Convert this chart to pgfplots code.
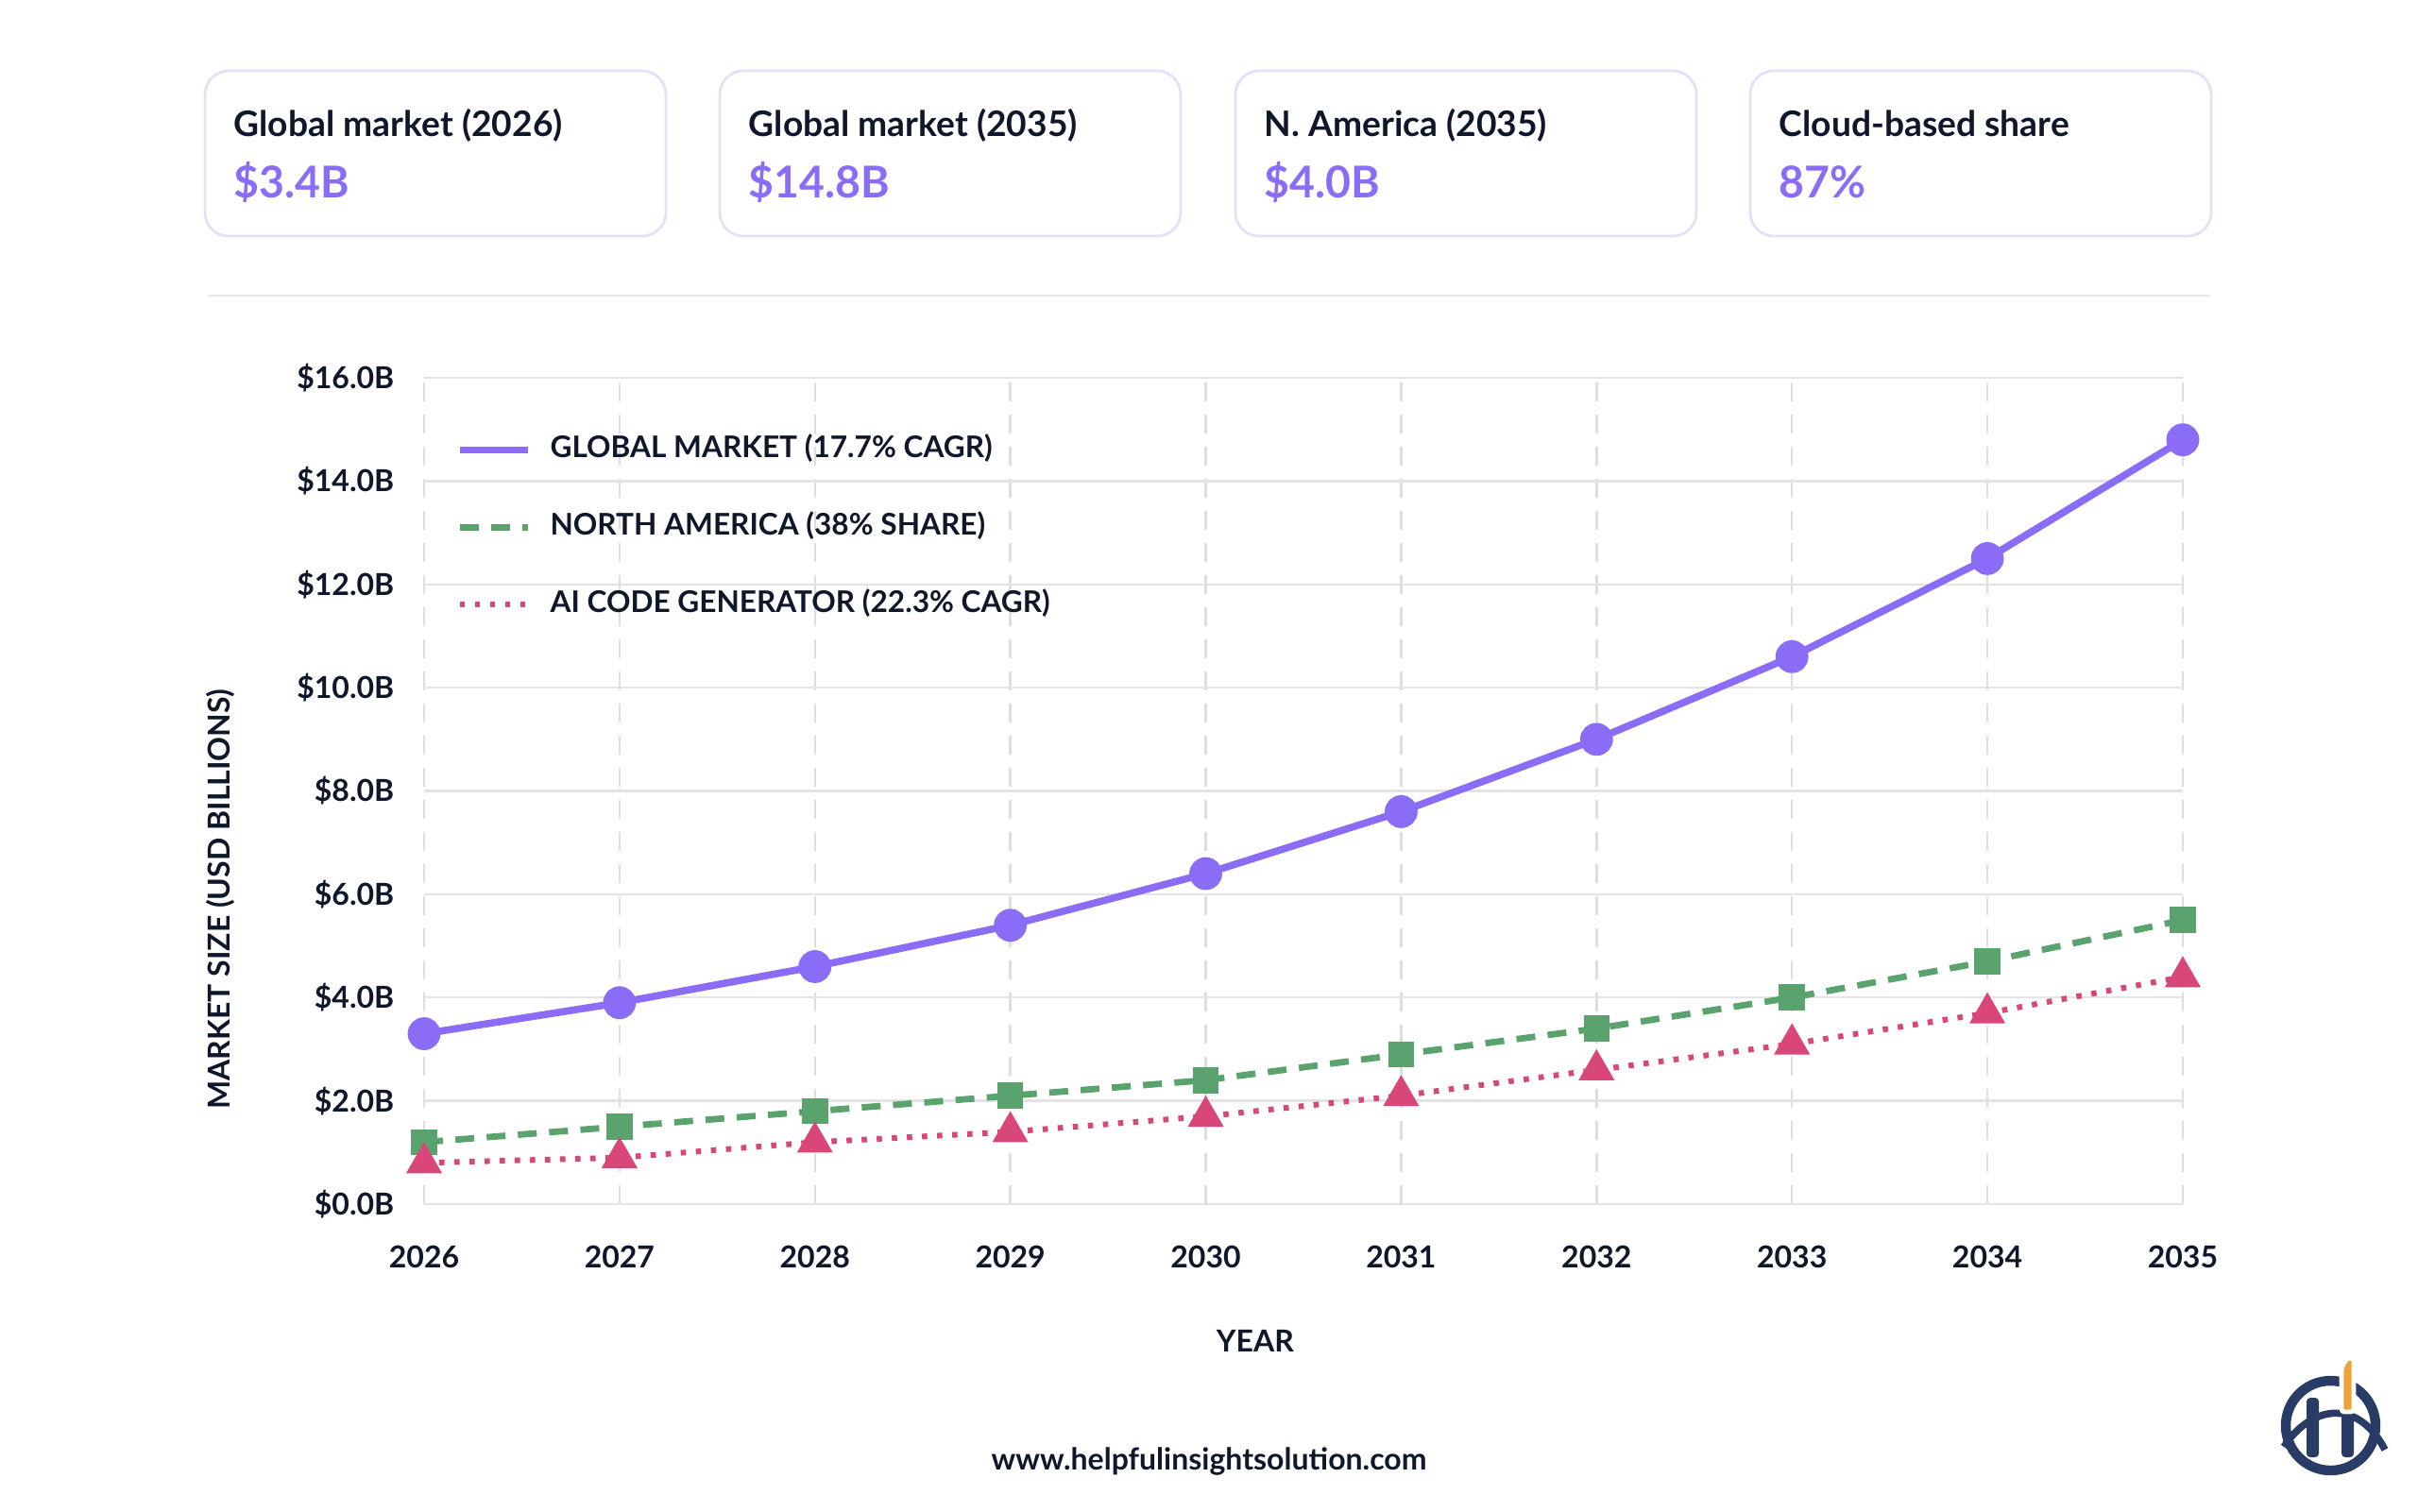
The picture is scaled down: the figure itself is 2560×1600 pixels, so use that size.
\documentclass[border=0pt]{standalone}
\usepackage{fontspec}
\setmainfont{Lato}
\usepackage{pgfplots}
\pgfplotsset{compat=1.18}
\definecolor{ink}{HTML}{0F172A}
\definecolor{cpurple}{HTML}{8B6CF6}
\definecolor{cgreen}{HTML}{5AA36E}
\definecolor{cpink}{HTML}{D9467A}
\definecolor{gridh}{HTML}{E3E3E6}
\definecolor{gridv}{HTML}{DEDEE1}
\definecolor{cardborder}{HTML}{E3E1F5}
\definecolor{sepline}{HTML}{E5E7EB}
\definecolor{navy}{HTML}{283C66}
\definecolor{logoorange}{HTML}{F0A33A}

\newcommand{\card}[3]{%
  \draw[cardborder, line width=0.7pt, fill=white, rounded corners=6.25pt] (#1,75) rectangle ++(488,175);
  \node[anchor=base west, inner sep=0pt, font=\bfseries\fontsize{9.3}{11}\selectfont, text=ink] at (#1+30,144) {#2};
  \node[anchor=base west, inner sep=0pt, font=\bfseries\fontsize{11.6}{13}\selectfont, text=cpurple] at (#1+30,209) {#3};
}

\begin{document}
\begin{tikzpicture}
\begin{scope}[x=0.25pt,y=-0.25pt]
  \path[use as bounding box, fill=white] (0,0) rectangle (2560,1600);
  \card{217}{Global market (2026)}{\$3.4B}
  \card{762}{Global market (2035)}{\$14.8B}
  \card{1308}{N. America (2035)}{\$4.0B}
  \card{1853}{Cloud-based share}{87\%}
  \draw[sepline, line width=0.5pt] (220,313) -- (2340,313);
  \node[anchor=base, inner sep=0pt, font=\bfseries\fontsize{8}{10}\selectfont, text=ink] at (1280,1556) {www.helpfulinsightsolution.com};
  % logo
  \draw[navy, line width=2.6pt] (2467.5,1509.5) circle[radius=11.875pt];
  \fill[navy, rounded corners=1pt] (2442,1480) rectangle (2455,1543);
  \fill[navy, rounded corners=1pt] (2479,1494) rectangle (2492,1543);
  \draw[navy, line width=1.9pt] (2418,1532) .. controls (2445,1490) and (2495,1478) .. (2525,1535);
  \filldraw[logoorange, draw=white, line width=1.2pt, rounded corners=0.8pt] (2479,1448) -- (2485,1438) -- (2492,1438) -- (2492,1495) -- (2479,1495) -- cycle;
\end{scope}

\begin{axis}[
  at={(112.25pt,-318.75pt)}, anchor=south west,
  scale only axis, width=465.5pt, height=218.75pt,
  xmin=2026, xmax=2035, ymin=0, ymax=16,
  xtick={2026,2027,2028,2029,2030,2031,2032,2033,2034,2035},
  xticklabels={2026,2027,2028,2029,2030,2031,2032,2033,2034,2035},
  ytick={0,2,4,6,8,10,12,14,16},
  yticklabels={\$0.0B,\$2.0B,\$4.0B,\$6.0B,\$8.0B,\$10.0B,\$12.0B,\$14.0B,\$16.0B},
  axis line style={draw=none}, major tick length=0pt,
  xmajorgrids, ymajorgrids,
  x grid style={gridv, line width=0.6pt, dash pattern=on 5pt off 3.5pt},
  y grid style={gridh, line width=0.6pt},
  tick label style={font=\bfseries\fontsize{8}{9}\selectfont, text=ink},
  xticklabel style={yshift=-7.6pt},
  yticklabel style={xshift=-4.4pt},
  xlabel={YEAR}, ylabel={MARKET SIZE (USD BILLIONS)},
  label style={font=\bfseries\fontsize{8}{10}\selectfont, text=ink},
  xlabel style={at={(axis description cs:0.4726,-0.1657)}, anchor=center},
  ylabel style={at={(axis description cs:-0.1155,0.369)}, anchor=center},
  clip=false,
  legend cell align=left,
  legend image code/.code={\draw[#1] (0pt,0pt) -- (18pt,0pt);},
  legend style={draw=none, fill=none, at={(rel axis cs:0,1)}, anchor=north west,
    xshift=8.3pt, yshift=-14.9pt, inner sep=0pt, row sep=12.5pt, column sep=5pt,
    font=\bfseries\fontsize{7.9}{9}\selectfont, text=ink,
    nodes={inner sep=0pt, text height=6pt, text depth=2pt}},
]
\addplot[cpurple, line width=1.9pt, line join=round, mark=*, mark size=3.4pt, mark options={solid}]
  coordinates {(2026,3.3)(2027,3.9)(2028,4.6)(2029,5.4)(2030,6.4)(2031,7.6)(2032,9.0)(2033,10.6)(2034,12.5)(2035,14.8)};
\addlegendentry{GLOBAL MARKET (17.7\% CAGR)}
\addplot[cgreen, line width=1.7pt, dash pattern=on 5pt off 3.3pt, mark=square*, mark size=2.6pt, mark options={solid}]
  coordinates {(2026,1.2)(2027,1.5)(2028,1.8)(2029,2.1)(2030,2.4)(2031,2.9)(2032,3.4)(2033,4.0)(2034,4.7)(2035,5.5)};
\addlegendentry{NORTH AMERICA (38\% SHARE)}
\addplot[cpink, line width=1.5pt, dash pattern=on 1.4pt off 2.6pt, mark=triangle*, mark size=4pt, mark options={solid}]
  coordinates {(2026,0.8)(2027,0.9)(2028,1.2)(2029,1.4)(2030,1.7)(2031,2.1)(2032,2.6)(2033,3.1)(2034,3.7)(2035,4.4)};
\addlegendentry{AI CODE GENERATOR (22.3\% CAGR)}
\end{axis}
\end{tikzpicture}
\end{document}
